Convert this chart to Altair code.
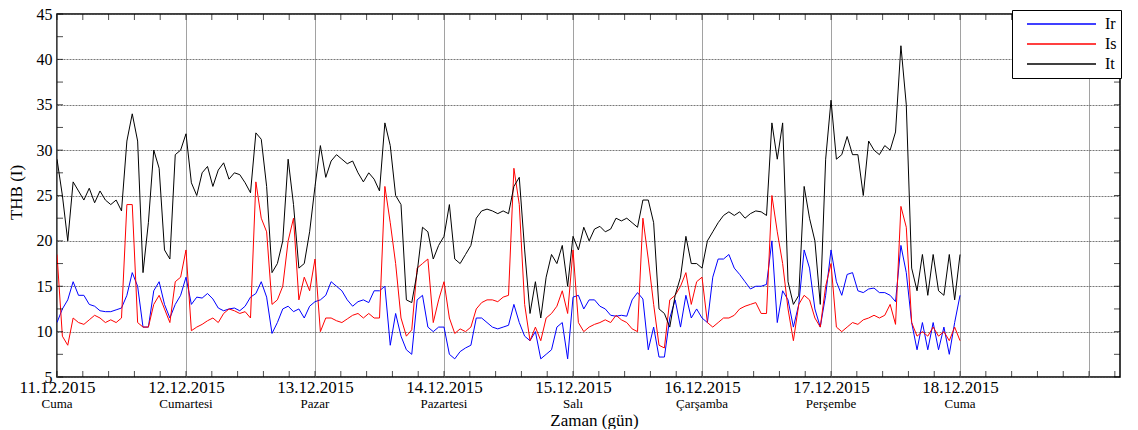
import json
import altair as alt
import pandas as pd

# ---------------- data (hourly samples from 11.12.2015 00:00) ----------------
DATE_LABELS = ["11.12.2015", "12.12.2015", "13.12.2015", "14.12.2015",
               "15.12.2015", "16.12.2015", "17.12.2015", "18.12.2015", ""]
DAY_NAMES = ["Cuma", "Cumartesi", "Pazar", "Pazartesi", "Salı",
             "Çarşamba", "Perşembe", "Cuma"]
SERIES = ["Ir", "Is", "It"]
COLORS = ["#0000ff", "#ff0000", "#000000"]

IR = [
    11, 12.5, 13.5, 15.5, 14, 14, 13, 12.8, 12.3, 12.2, 12.2, 12.4, 12.6, 14, 16.5, 15, 10.5, 10.5, 14.5, 15.5, 13, 11.5, 13, 14,
    16, 13, 13.8, 13.7, 14.2, 13.6, 12.6, 12.3, 12.5, 12.6, 12.3, 12.8, 13.8, 14.2, 15.5, 13.8, 9.8, 11, 12.5, 12.8, 12.2, 12.5, 11.5, 12.8,
    13.3, 13.5, 14, 15.5, 15, 14.5, 13.5, 12.8, 13.3, 13.5, 13.2, 14.5, 14.5, 15, 8.5, 12, 9.5, 8, 7.5, 13.5, 14, 10.5, 10, 10.5,
    10.5, 7.5, 7, 7.8, 8.2, 8.5, 11.5, 11.5, 11, 10.5, 10.3, 10.5, 10.7, 13, 11, 9.5, 9, 10, 7, 7.5, 8, 10.5, 11, 7,
    13.8, 14, 12.5, 13.5, 13.5, 12.8, 12.5, 11.8, 11.7, 11.8, 11.7, 13.5, 14.3, 13.6, 8, 10.5, 7.2, 7.2, 11.5, 13.5, 10.5, 14, 11.5, 12.5,
    11.5, 11, 16, 18, 18, 18.5, 17, 16.3, 15.5, 14.7, 15, 15, 15.2, 20, 11, 14.5, 13.5, 10.5, 13, 19, 17, 12.5, 10.5, 14,
    19, 15.5, 14, 16.3, 16.5, 14.5, 14.3, 14.7, 14.8, 14.3, 14.3, 14, 13.3, 19.5, 16.5, 11, 8, 11, 8, 11, 8, 10.5, 7.5, 11,
    14,
]
IS = [
    18.5, 9.5, 8.5, 11.5, 11, 10.8, 11.3, 11.8, 11.5, 11, 11.3, 11, 11.5, 24, 24, 11, 10.5, 10.5, 13, 14, 12.5, 11, 15.5, 16,
    19, 10.1, 10.5, 10.8, 11.2, 11.5, 11, 12, 12.5, 12.3, 12, 12.2, 11.5, 26.5, 22.5, 21, 13, 13.5, 15, 20, 22.5, 13.5, 16, 14.5,
    18, 10, 11.5, 11.5, 11.2, 11, 11.4, 11.8, 12, 11.5, 12, 11.5, 11.5, 26, 22, 17.5, 11.5, 9.5, 10.2, 17, 17.5, 18, 11, 13.5,
    15.5, 11.5, 9.8, 10.3, 10, 10.5, 12.5, 13.2, 13.5, 13.5, 13.3, 13.8, 14, 28, 24, 13, 9, 10.5, 9, 11.5, 12, 12.8, 14.5, 12,
    19, 11, 10, 10.5, 10.8, 11, 11.3, 11, 11.8, 11.3, 11, 10.3, 10, 22.5, 18, 13, 8.5, 8.2, 13.5, 14, 15, 16.5, 13, 15.5,
    16, 11, 10.5, 11, 11.5, 11.5, 11.8, 12.5, 12.8, 13, 13.2, 12, 12, 25, 21, 17.5, 12.5, 9, 13, 14, 13.5, 11.5, 10.5, 15,
    17.5, 10.5, 10, 10.5, 11, 10.8, 11.3, 11.5, 11.8, 11.5, 11.8, 13, 10.8, 23.8, 21.5, 11, 9.5, 10, 9.5, 10.5, 9.5, 10, 9, 10.5,
    9,
]
IT = [
    29, 25, 20, 26.5, 25.5, 24.5, 25.8, 24.2, 25.5, 24.5, 24, 24.5, 23.3, 31, 34, 31, 16.5, 22, 30, 28, 19, 18, 29.5, 30,
    31.8, 26.4, 25, 27.5, 28.2, 26, 27.8, 28.6, 26.8, 27.5, 27.3, 26.4, 25.3, 31.9, 31.2, 26, 16.5, 17.5, 20, 29, 24, 17, 17.5, 21,
    26, 30.5, 27, 28.8, 29.5, 29, 28.5, 28.8, 27.5, 26.5, 27.5, 26.8, 25.5, 33, 30.5, 25, 24, 13.5, 13.2, 16.5, 21.5, 21, 18, 19.5,
    20.5, 24, 18, 17.5, 18.5, 19.5, 22.5, 23.3, 23.5, 23.3, 23, 23.3, 23, 26, 27, 19, 12, 15.5, 11.5, 16, 18.5, 17.5, 19.5, 15,
    20.5, 19, 21.5, 20, 21.3, 21.6, 21, 21.3, 22.5, 22.2, 22.5, 22, 21.5, 24.5, 24.5, 22, 12.5, 12, 10.5, 14, 16, 20.5, 17.5, 17.5,
    17, 20, 21, 22, 22.8, 23.2, 22.8, 23.2, 22.5, 23, 23.3, 23.2, 22.8, 33, 29, 33, 15.5, 13, 14, 26, 22.5, 20, 13, 29,
    35.5, 29, 29.5, 31.5, 29.5, 29.5, 25, 31, 30, 29.5, 30.5, 30, 32, 41.5, 35, 17, 14.5, 18.5, 14, 18.5, 14.5, 14, 18.5, 13.5,
    18.5,
]

Y_TICKS = [5, 10, 15, 20, 25, 30, 35, 40, 45]
X_DAYS = list(range(9))

# ---------------- tables ----------------
n = len(IR)
hours = [i / 24 for i in range(n)]
df = pd.DataFrame({
    "t": hours * 3,
    "v": IR + IS + IT,
    "s": ["Ir"] * n + ["Is"] * n + ["It"] * n,
})
names_df = pd.DataFrame({"t": list(range(len(DAY_NAMES))), "name": DAY_NAMES})
xminor_df = pd.DataFrame({"t": [k * 0.2 for k in range(42)]})
yminor_df = pd.DataFrame({"v": [5 + k * 2.5 for k in range(17)]})

W, H = 1063, 363
FONT = "Liberation Serif"
xscale = alt.Scale(domain=[0, 8.24], nice=False, zero=False)
yscale = alt.Scale(domain=[5, 45], nice=False, zero=False)

label_expr = json.dumps(DATE_LABELS) + "[datum.value]"

lines = alt.Chart(df).mark_line(strokeWidth=1, clip=True).encode(
    x=alt.X("t:Q", scale=xscale,
            axis=alt.Axis(values=X_DAYS, labelExpr=label_expr, title="Zaman (gün)",
                          grid=True, gridColor="#8a8a8a", gridWidth=0.8,
                          ticks=False, domain=False, labelPadding=2,
                          labelFont=FONT, titleFont=FONT,
                          labelFontSize=17, labelColor="black",
                          titleFontSize=17, titleFontWeight="normal", titleColor="black",
                          titleX=537, titleY=43, titleBaseline="middle", titleAlign="center",
                          labelFlush=False, labelOverlap=False)),
    y=alt.Y("v:Q", scale=yscale,
            axis=alt.Axis(values=Y_TICKS, title="THB (I)", grid=True,
                          gridColor="#555555", gridDash=[2, 1], gridWidth=0.8,
                          ticks=False, domain=False, labelPadding=5,
                          labelFont=FONT, titleFont=FONT,
                          labelFontSize=16, labelColor="black",
                          titleFontSize=17, titleFontWeight="normal", titleColor="black",
                          titleX=-41, titleY=178, titleBaseline="middle", titleAlign="center")),
    color=alt.Color("s:N", scale=alt.Scale(domain=SERIES, range=COLORS),
                    legend=alt.Legend(title=None, orient="none", legendX=955, legendY=-4,
                                      symbolType="stroke", symbolSize=4761,
                                      symbolStrokeWidth=1.3, symbolOffset=10,
                                      labelOffset=8, clipHeight=20,
                                      labelFontSize=16, labelFont=FONT, labelColor="black",
                                      padding=4, rowPadding=0,
                                      strokeColor="black", fillColor="white")),
)

tick_kw = dict(color="black", thickness=1)
bottom_minor = alt.Chart(xminor_df).mark_tick(size=6, **tick_kw).encode(
    x=alt.X("t:Q", scale=xscale), y=alt.value(H - 3))
top_minor = alt.Chart(xminor_df).mark_tick(size=6, **tick_kw).encode(
    x=alt.X("t:Q", scale=xscale), y=alt.value(3))
left_minor = alt.Chart(yminor_df).mark_tick(size=6, **tick_kw).encode(
    y=alt.Y("v:Q", scale=yscale), x=alt.value(3))
right_minor = alt.Chart(yminor_df).mark_tick(size=6, **tick_kw).encode(
    y=alt.Y("v:Q", scale=yscale), x=alt.value(W - 3))

names = alt.Chart(names_df).mark_text(fontSize=13, font=FONT, color="black",
                                      baseline="middle", align="center").encode(
    x=alt.X("t:Q", scale=xscale), y=alt.value(H + 27), text="name:N")

chart = alt.layer(lines, bottom_minor, top_minor, left_minor, right_minor, names).properties(
    width=W, height=H,
    padding={"left": 49, "top": 6, "right": 10, "bottom": 52},
    autosize=alt.AutoSizeParams(type="none"),
    background="white",
).configure_view(
    stroke="black", strokeWidth=1.5
).configure_axis(
    labelFont=FONT, titleFont=FONT
)

chart.save("out.html", embed_options={"renderer": "svg", "actions": False})
